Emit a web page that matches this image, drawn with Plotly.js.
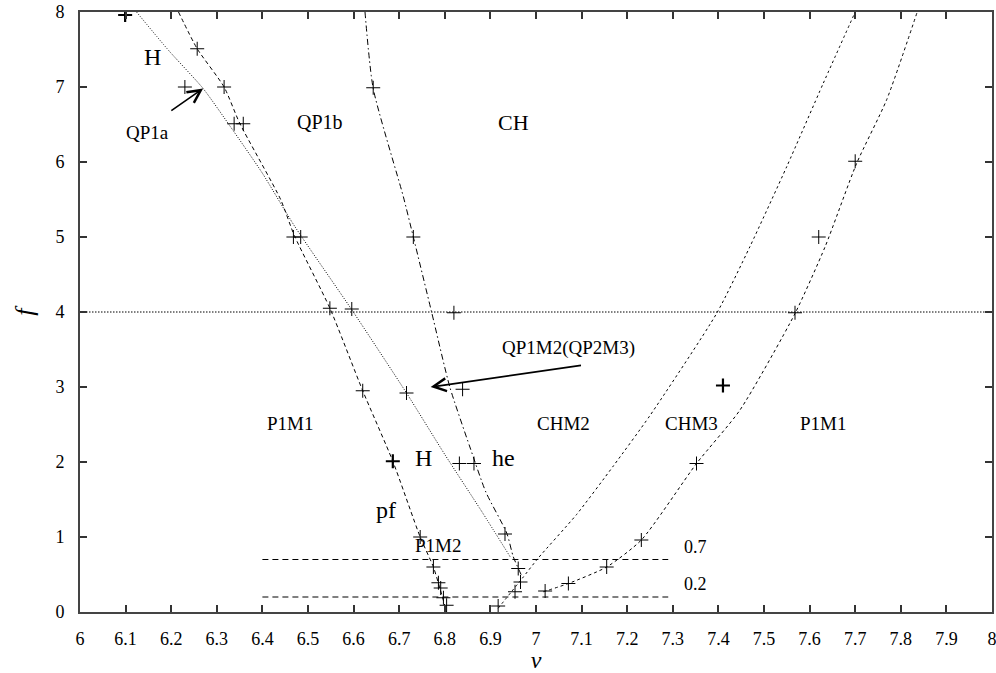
<!DOCTYPE html>
<html>
<head>
<meta charset="utf-8">
<script src="https://cdn.plot.ly/plotly-3.0.1.min.js"></script>
<style>
  html, body { margin: 0; padding: 0; background: #fff; }
  #chart { width: 996px; height: 673px; }
</style>
</head>
<body>
<div id="chart"></div>
<script>
// Boundary curves of the (v, f) regime diagram
const hCurveV  = [6.124, 6.194, 6.27, 6.33, 6.40, 6.47, 6.596, 6.716, 6.80, 6.88, 6.945];
const hCurveF  = [8.0, 7.49, 6.98, 6.47, 5.85, 5.15, 4.03, 2.92, 2.1, 1.35, 0.72];

const pfCurveV = [6.216, 6.257, 6.316, 6.35, 6.44, 6.47, 6.548, 6.62, 6.686, 6.746, 6.775, 6.79, 6.804];
const pfCurveF = [8.0, 7.51, 7.0, 6.52, 5.5, 5.02, 4.05, 2.95, 2.01, 1.0, 0.6, 0.3, 0.0];

const heCurveV = [6.625, 6.643, 6.709, 6.731, 6.771, 6.811, 6.855, 6.89, 6.936, 6.95, 6.968];
const heCurveF = [8.0, 6.98, 5.54, 5.0, 4.0, 3.0, 2.2, 1.6, 1.05, 0.74, 0.49];

const chm2CurveV = [6.917, 6.97, 7.005, 7.089, 7.17, 7.25, 7.396, 7.469, 7.55, 7.63, 7.70];
const chm2CurveF = [0.05, 0.45, 0.72, 1.3, 1.95, 2.62, 3.98, 4.87, 5.94, 7.05, 8.0];

const chm3CurveV = [7.016, 7.071, 7.155, 7.231, 7.352, 7.447, 7.568, 7.634, 7.703, 7.769, 7.836];
const chm3CurveF = [0.27, 0.38, 0.6, 0.96, 1.98, 2.69, 3.98, 4.87, 5.98, 6.83, 8.0];

// Horizontal reference levels
const levelHighF = 4;
const levelHighV = [6, 8];
const levelLowF  = [0.7, 0.2];
const levelLowV  = [6.4, 7.29];

// Computed points
const ptsV = [
  6.257, 6.316, 6.338, 6.358, 6.468, 6.548, 6.62, 6.746, 6.775, 6.786, 6.791, 6.797, 6.804,
  6.23, 6.484, 6.596, 6.716,
  6.643, 6.731, 6.82, 6.839, 6.832, 6.864, 6.932, 6.961, 6.966, 6.954,
  6.917,
  7.02, 7.071, 7.155, 7.231, 7.352, 7.568, 7.62, 7.70
];
const ptsF = [
  7.51, 7.0, 6.51, 6.51, 5.0, 4.05, 2.95, 1.0, 0.6, 0.39, 0.32, 0.19, 0.09,
  7.0, 5.0, 4.04, 2.92,
  6.99, 5.0, 3.99, 2.97, 1.98, 1.98, 1.04, 0.58, 0.40, 0.27,
  0.08,
  0.28, 0.38, 0.6, 0.96, 1.98, 3.99, 5.0, 6.01
];
const boldV = [6.099, 6.686, 7.41];
const boldF = [7.96, 2.01, 3.02];

// Tick labels
const xTickVals = [6, 6.1, 6.2, 6.3, 6.4, 6.5, 6.6, 6.7, 6.8, 6.9, 7, 7.1, 7.2, 7.3, 7.4, 7.5, 7.6, 7.7, 7.8, 7.9, 8];
const xTickText = ['6', '6.1', '6.2', '6.3', '6.4', '6.5', '6.6', '6.7', '6.8', '6.9', '7', '7.1', '7.2', '7.3', '7.4', '7.5', '7.6', '7.7', '7.8', '7.9', '8'];
const yTickVals = [0, 1, 2, 3, 4, 5, 6, 7, 8];

// Region labels
const regionText = ['H', 'QP1a', 'QP1b', 'CH', 'QP1M2(QP2M3)', 'P1M1', 'CHM2', 'CHM3', 'P1M1', 'H', 'he', 'pf', 'P1M2', '0.7', '0.2'];
const regionV    = [6.16, 6.149, 6.526, 6.95, 7.071, 6.46, 7.06, 7.34, 7.63, 6.753, 6.928, 6.67, 6.785, 7.35, 7.35];
const regionF    = [7.4, 6.4, 6.53, 6.53, 3.52, 2.52, 2.52, 2.52, 2.52, 2.05, 2.05, 1.36, 0.89, 0.87, 0.37];
const regionSize = [24, 19, 20, 22, 19, 19, 19, 19, 19, 24, 24, 24, 19, 18, 18];

const serif = '"Liberation Serif", "DejaVu Serif", serif';

function curve(x, y, dash, width) {
  return {
    x: x, y: y, type: 'scatter', mode: 'lines',
    line: { color: '#000', width: width || 1, dash: dash, shape: 'spline', smoothing: 0.6 },
    hoverinfo: 'skip', showlegend: false
  };
}

const traces = [
  curve(hCurveV, hCurveF, '1px,1.6px', 1),
  curve(pfCurveV, pfCurveF, '4px,3px', 1),
  curve(heCurveV, heCurveF, '6px,3px,1.5px,3px', 1),
  curve(chm2CurveV, chm2CurveF, '2.5px,3px', 1),
  curve(chm3CurveV, chm3CurveF, '3px,3px', 1),
  curve(levelHighV, [levelHighF, levelHighF], '1.5px,1.5px', 1),
  curve(levelLowV, [levelLowF[0], levelLowF[0]], '6px,4px', 1),
  curve(levelLowV, [levelLowF[1], levelLowF[1]], '6px,4px', 1),
  {
    x: ptsV, y: ptsF, type: 'scatter', mode: 'markers',
    marker: { symbol: 'cross-thin-open', size: 10, color: '#000', line: { color: '#000', width: 1 } },
    hoverinfo: 'skip', showlegend: false
  },
  {
    x: boldV, y: boldF, type: 'scatter', mode: 'markers',
    marker: { symbol: 'cross-thin-open', size: 10, color: '#000', line: { color: '#000', width: 2.2 } },
    hoverinfo: 'skip', showlegend: false
  }
];

const annotations = regionText.map((t, i) => ({
  x: regionV[i], y: regionF[i], xref: 'x', yref: 'y',
  text: t, showarrow: false,
  font: { family: serif, size: regionSize[i], color: '#000' }
}));

// Pointer arrows
annotations.push({
  x: 6.27, y: 6.98, ax: 6.197, ay: 6.67, xref: 'x', yref: 'y', axref: 'x', ayref: 'y',
  text: '', showarrow: true, arrowhead: 5, arrowsize: 1.6, arrowwidth: 1.6, arrowcolor: '#000'
});
annotations.push({
  x: 6.769, y: 3.0, ax: 7.102, ay: 3.29, xref: 'x', yref: 'y', axref: 'x', ayref: 'y',
  text: '', showarrow: true, arrowhead: 5, arrowsize: 1.4, arrowwidth: 1.8, arrowcolor: '#000'
});

const axisCommon = {
  showline: true, linecolor: '#444', linewidth: 2, mirror: 'ticks',
  ticks: 'inside', ticklen: 7, tickwidth: 2, tickcolor: '#333',
  showgrid: false, zeroline: false, fixedrange: true,
  ticklabeloverflow: 'allow',
  tickfont: { family: serif, size: 18, color: '#000' }
};

const layout = {
  width: 996, height: 673,
  margin: { l: 80, r: 4, t: 12, b: 61 },
  paper_bgcolor: '#fff', plot_bgcolor: '#fff',
  font: { family: serif, color: '#000' },
  xaxis: Object.assign({}, axisCommon, {
    range: [6, 8], tickvals: xTickVals, ticktext: xTickText,
    ticklabelstandoff: 9,
    title: { text: '<i>v</i>', font: { family: serif, size: 24, color: '#000' }, standoff: 6 }
  }),
  yaxis: Object.assign({}, axisCommon, {
    range: [0, 8], tickvals: yTickVals,
    ticklabelstandoff: 10,
    title: { text: '<i>f</i>', font: { family: serif, size: 26, color: '#000' }, standoff: 14 }
  }),
  annotations: annotations,
  showlegend: false
};

Plotly.newPlot('chart', traces, layout, { staticPlot: true, displayModeBar: false });
</script>
</body>
</html>
